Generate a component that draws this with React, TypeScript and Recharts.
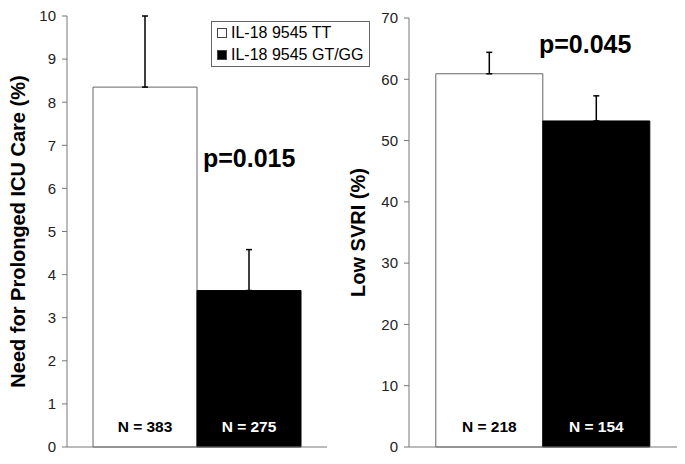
import React from "react";
import { BarChart, Bar, XAxis, YAxis, ErrorBar, LabelList, Legend } from "recharts";

const groups = ["IL-18 9545 TT", "IL-18 9545 GT/GG"];

const icuValues = [8.35, 3.63];
const icuErrors = [1.65, 0.95];
const icuN = [383, 275];
const icuTicks = [0, 1, 2, 3, 4, 5, 6, 7, 8, 9, 10];

const svriValues = [60.9, 53.2];
const svriErrors = [3.5, 4.1];
const svriN = [218, 154];
const svriTicks = [0, 10, 20, 30, 40, 50, 60, 70];

const pValues = ["p=0.015", "p=0.045"];

const FONT = "'Liberation Sans', Arial, sans-serif";
const AXIS = "#777";

function buildRow(name: string, values: number[], errors: number[], ns: number[]) {
  return [
    {
      name,
      tt: values[0],
      gg: values[1],
      ttErr: [0, errors[0]],
      ggErr: [0, errors[1]],
      ttN: ns[0],
      ggN: ns[1],
    },
  ];
}

const icuData = buildRow("icu", icuValues, icuErrors, icuN);
const svriData = buildRow("svri", svriValues, svriErrors, svriN);

const axisLabel = (text: string) => (props: any) => {
  const vb = props.viewBox;
  const cy = vb.y + vb.height / 2;
  return (
    <text
      x={25}
      y={cy}
      transform={`rotate(-90, 25, ${cy})`}
      textAnchor="middle"
      fontFamily={FONT}
      fontWeight="bold"
      fontSize={20}
      fill="#000"
    >
      {text}
    </text>
  );
};

function LegendBox(props: any) {
  const items = [...(props.payload || [])].sort(
    (a: any, b: any) => groups.indexOf(a.value) - groups.indexOf(b.value)
  );
  return (
    <div
      style={{
        border: "1px solid #666",
        background: "#fff",
        padding: "0 5px",
        fontFamily: FONT,
        fontSize: 16,
        lineHeight: "22px",
        color: "#000",
        display: "inline-block",
      }}
    >
      {items.map((it: any) => (
        <div key={it.value} style={{ display: "flex", alignItems: "center", whiteSpace: "nowrap" }}>
          <span
            style={{
              display: "inline-block",
              width: 8,
              height: 8,
              border: "1px solid #444",
              background: it.color,
              marginRight: 4,
            }}
          />
          {it.value}
        </div>
      ))}
    </div>
  );
}

function Panel(props: {
  data: any[];
  ticks: number[];
  label: string;
  width: number;
  top: number;
  right: number;
  axisWidth: number;
  legend?: boolean;
}) {
  const max = props.ticks[props.ticks.length - 1];
  return (
    <BarChart
      width={props.width}
      height={464}
      data={props.data}
      margin={{ top: props.top, right: props.right, left: 0, bottom: 0 }}
      barGap={0}
      barCategoryGap="10%"
    >
      <XAxis dataKey="name" height={17} tick={false} tickLine={false} axisLine={{ stroke: AXIS }} />
      <YAxis
        width={props.axisWidth}
        domain={[0, max]}
        ticks={props.ticks}
        interval={0}
        tickSize={5}
        tickMargin={6}
        axisLine={{ stroke: AXIS }}
        tickLine={{ stroke: AXIS }}
        tick={{ fill: "#222", fontSize: 15, fontFamily: FONT }}
        label={{ content: axisLabel(props.label) } as any}
      />
      {props.legend && (
        <Legend
          layout="horizontal"
          verticalAlign="middle"
          align="center"
          content={<LegendBox />}
          wrapperStyle={{ left: 211, top: 21, width: "auto", height: "auto" }}
        />
      )}
      <Bar dataKey="tt" name={groups[0]} fill="#fff" stroke="#666" isAnimationActive={false}>
        <ErrorBar dataKey="ttErr" width={3} stroke="#000" strokeWidth={1.5} direction="y" />
        <LabelList
          dataKey="ttN"
          position="insideBottom"
          offset={15}
          formatter={(v: any) => `N = ${v}`}
          style={{ fill: "#000", fontWeight: "bold", fontSize: 15.5, fontFamily: FONT }}
        />
      </Bar>
      <Bar dataKey="gg" name={groups[1]} fill="#000" stroke="#000" isAnimationActive={false}>
        <ErrorBar dataKey="ggErr" width={3} stroke="#000" strokeWidth={1.5} direction="y" />
        <LabelList
          dataKey="ggN"
          position="insideBottom"
          offset={15}
          formatter={(v: any) => `N = ${v}`}
          style={{ fill: "#fff", fontWeight: "bold", fontSize: 15.5, fontFamily: FONT }}
        />
      </Bar>
    </BarChart>
  );
}

export default function App() {
  return (
    <div style={{ position: "absolute", left: 0, top: 0, width: 685, height: 464, background: "#fff" }}>
      <div style={{ position: "absolute", left: 0, top: 0 }}>
        <Panel
          data={icuData}
          ticks={icuTicks}
          label="Need for Prolonged ICU Care (%)"
          width={340}
          top={16}
          right={13}
          axisWidth={67}
          legend
        />
      </div>
      <div style={{ position: "absolute", left: 340, top: 0 }}>
        <Panel
          data={svriData}
          ticks={svriTicks}
          label="Low SVRI (%)"
          width={345}
          top={18}
          right={8}
          axisWidth={69}
        />
      </div>
      <svg
        width={685}
        height={464}
        style={{ position: "absolute", left: 0, top: 0, pointerEvents: "none" }}
      >
        <text x={203} y={167} fontFamily={FONT} fontWeight="bold" fontSize={25} fill="#000">
          {pValues[0]}
        </text>
        <text x={539} y={53} fontFamily={FONT} fontWeight="bold" fontSize={25} fill="#000">
          {pValues[1]}
        </text>
      </svg>
    </div>
  );
}
